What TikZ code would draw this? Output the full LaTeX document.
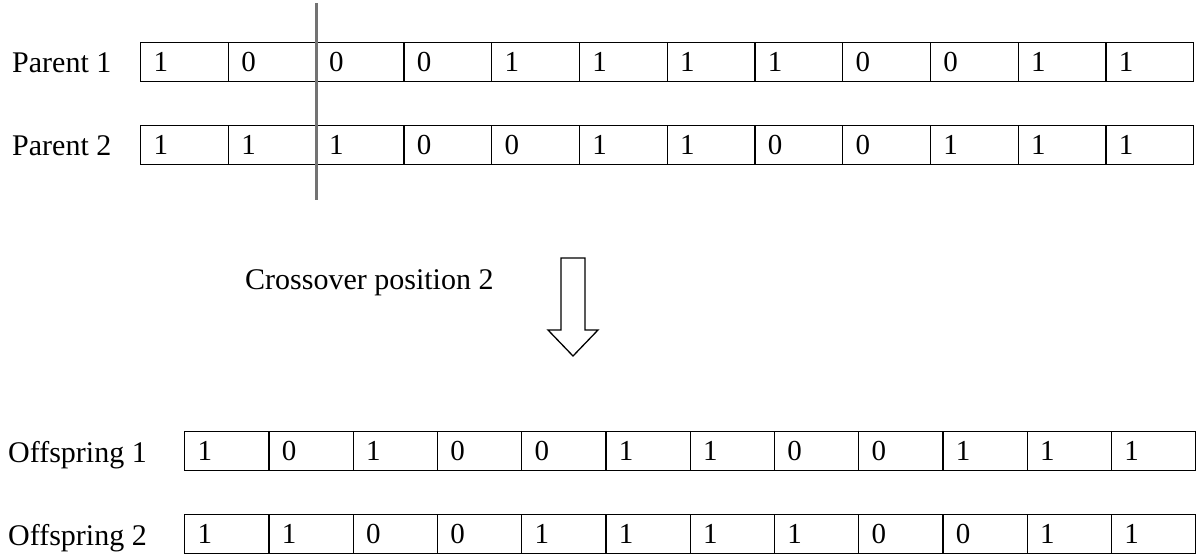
\documentclass[tikz,border=0pt]{standalone}
\usepackage{fontspec}
\setmainfont{Liberation Serif}
\begin{document}
\begin{tikzpicture}[x=1pt,y=-1pt,
  cell/.style={draw, line width=1.3pt, minimum height=38.5pt, inner xsep=13pt, inner ysep=0pt,
    align=left, anchor=north west, font=\fontsize{29}{34}\selectfont},
  pcell/.style={cell, text width=61.75pt, minimum width=87.75pt},
  ocell/.style={cell, text width=58.25pt, minimum width=84.25pt},
  lbl/.style={anchor=base west, inner sep=0pt, font=\fontsize{30}{36}\selectfont},
  cross/.style={draw=black!55, line width=3pt},
  blockarrow/.style={draw, line width=1.3pt, line join=miter}]
\useasboundingbox (0,0) rectangle (1197,557);
% labels
\node[lbl] (l1) at (12,72) {Parent 1};
\node[lbl] (l2) at (12,155) {Parent 2};
\node[lbl] (l3) at (8,462) {Offspring 1};
\node[lbl] (l4) at (8,545) {Offspring 2};
% parent rows
\foreach \b [count=\i from 0] in {1,0,0,0,1,1,1,1,0,0,1,1}
  \node[pcell] (pa\i) at (140+87.75*\i,42) {\b};
\foreach \b [count=\i from 0] in {1,1,1,0,0,1,1,0,0,1,1,1}
  \node[pcell] (pb\i) at (140+87.75*\i,125) {\b};
% offspring rows
\foreach \b [count=\i from 0] in {1,0,1,0,0,1,1,0,0,1,1,1}
  \node[ocell] (oa\i) at (184+84.25*\i,431) {\b};
\foreach \b [count=\i from 0] in {1,1,0,0,1,1,1,1,0,0,1,1}
  \node[ocell] (ob\i) at (184+84.25*\i,514) {\b};
% crossover line
\coordinate (ct) at (316,3);
\coordinate (cb) at (316,200);
\draw[cross] (ct) -- (cb);
% caption and arrow
\node[lbl] (cap) at (245,289) {Crossover position 2};
\draw[blockarrow] (561,258) -- (585,258) -- (585,330) -- (598,330) -- (573,356)
  -- (548,330) -- (561,330) -- cycle;
\end{tikzpicture}
\end{document}
